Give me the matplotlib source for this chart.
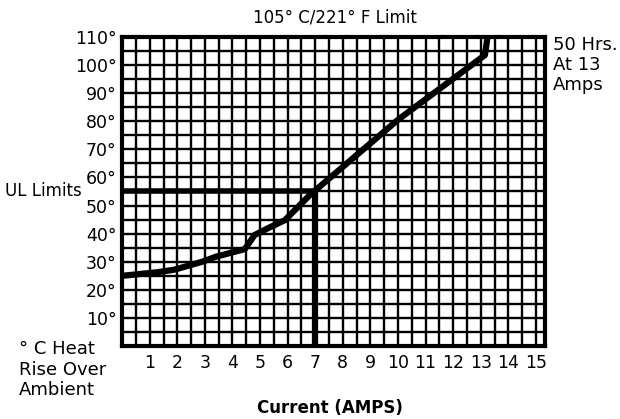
import matplotlib
matplotlib.use("Agg")
import matplotlib.pyplot as plt
import numpy as np

# heat rise curve
amps = [0, 1.3, 1.9, 2.9, 3.4, 4.45, 4.8, 5.3, 5.9, 6.8, 10.0, 13.15, 13.25]
rise = [25, 26.3, 27.2, 30, 31.8, 34.5, 39.5, 42, 44.8, 53.7, 80.5, 103.5, 110]

x_ticks = list(range(1, 16))
y_ticks = [10, 20, 30, 40, 50, 60, 70, 80, 90, 100, 110]
y_labels = [str(v) + "°" for v in y_ticks]

ul_limit = 55
ul_amps = 7

plt.rcParams['font.family'] = ['DejaVu Sans']
fig = plt.figure(figsize=(6.2, 4.19), dpi=100)
ax = fig.add_axes([0.197, 0.174, 0.682, 0.738])

ax.set_xlim(0, 15.33)
ax.set_ylim(0, 110)

# fine grid every half amp and every 5 degrees
ax.set_xticks(np.arange(0.5, 15.5, 0.5), minor=True)
ax.set_yticks(np.arange(5, 110, 5), minor=True)
ax.set_xticks(x_ticks)
ax.set_xticklabels([str(v) for v in x_ticks], fontsize=12.5)
ax.set_yticks(y_ticks)
ax.set_yticklabels(y_labels, fontsize=12.5)
ax.tick_params(which='both', length=0)
ax.tick_params(axis='x', pad=6)
ax.tick_params(axis='y', pad=4)
ax.grid(which='both', color='black', linewidth=1.7)
ax.set_axisbelow(True)
for s in ax.spines.values():
    s.set_linewidth(3)

# UL limit lines
ax.plot([0, ul_amps], [ul_limit, ul_limit], color='black', linewidth=4, solid_capstyle='butt')
ax.plot([ul_amps, ul_amps], [0, ul_limit], color='black', linewidth=4.5, solid_capstyle='butt')

ax.plot(amps, rise, color='black', linewidth=4.5, solid_capstyle='round')

fig.text(0.54, 0.958, "105° C/221° F Limit", ha='center', va='center', fontsize=12)
fig.text(0.532, 0.027, "Current (AMPS)", ha='center', va='center', fontsize=12, fontweight='bold')
fig.text(0.008, 0.545, "UL Limits", ha='left', va='center', fontsize=12)
fig.text(0.03, 0.118, "° C Heat\nRise Over\nAmbient", ha='left', va='center', fontsize=13, linespacing=1.15)
fig.text(0.892, 0.844, "50 Hrs.\nAt 13\nAmps", ha='left', va='center', fontsize=13, linespacing=1.15)

plt.savefig("out.png", dpi=100)
